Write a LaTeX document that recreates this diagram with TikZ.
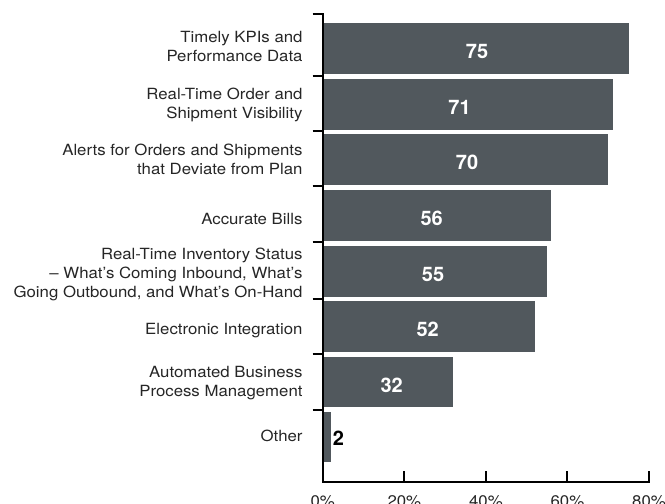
\documentclass[tikz,border=0pt]{standalone}
\usepackage{fontspec}
\setmainfont[FakeStretch=1.09]{TeX Gyre Heros}
\newfontfamily\valfont{TeX Gyre Heros}
\definecolor{barcol}{RGB}{81,88,93}
\tikzset{
  barbox/.style={fill=barcol, draw=none, inner sep=0pt, minimum height=50.7pt, anchor=west, rectangle},
  catlabel/.style={anchor=north east, inner sep=0pt, align=right, font=\fontsize{15.4}{19}\selectfont, text=black!85},
  vallabel/.style={inner sep=0pt, text=white, font=\valfont\bfseries\fontsize{20}{24}\selectfont},
  axisline/.style={line width=2pt, line cap=butt, line join=miter},
  ticklabel/.style={anchor=north, inner sep=0pt, font=\fontsize{15.4}{19}\selectfont, text=black!85}
}
\begin{document}
\begin{tikzpicture}[x=1pt,y=-1pt]
\useasboundingbox (0,0) rectangle (665,504);
% bars
\node[barbox, minimum width=305.9pt] (b1) at (322.7,48.5) {};
\node[barbox, minimum width=289.6pt] (b2) at (322.7,104.5) {};
\node[barbox, minimum width=285.5pt] (b3) at (322.7,159.3) {};
\node[barbox, minimum width=228.4pt] (b4) at (322.7,215.3) {};
\node[barbox, minimum width=224.3pt] (b5) at (322.7,271.3) {};
\node[barbox, minimum width=212.1pt] (b6) at (322.7,326.3) {};
\node[barbox, minimum width=130.5pt] (b7) at (322.7,382) {};
\node[barbox, minimum width=8.2pt] (b8) at (322.7,437) {};
% values
\node[vallabel] (v1) at (477,51.5) {75};
\node[vallabel] (v2) at (459.5,107.5) {71};
\node[vallabel] (v3) at (467,162.3) {70};
\node[vallabel] (v4) at (431.7,218.3) {56};
\node[vallabel] (v5) at (433,274.3) {55};
\node[vallabel] (v6) at (427.7,329.3) {52};
\node[vallabel] (v7) at (391.7,385) {32};
\node[vallabel, text=black] (v8) at (338.5,438) {2};
% category labels
\node[catlabel] (c1) at (302.7,30.7) {Timely KPIs and\\Performance Data};
\node[catlabel] (c2) at (302.7,87.3) {Real-Time Order and\\Shipment Visibility};
\node[catlabel] (c3) at (302.7,143.3) {Alerts for Orders and Shipments\\that Deviate from Plan};
\node[catlabel] (c4) at (302.7,213.3) {Accurate Bills};
\node[catlabel] (c5) at (302.7,247.7) {Real-Time Inventory Status\\– What’s Coming Inbound, What’s\\Going Outbound, and What’s On-Hand};
\node[catlabel] (c6) at (302.7,323.3) {Electronic Integration};
\node[catlabel] (c7) at (302.7,365.7) {Automated Business\\Process Management};
\node[catlabel] (c8) at (302.7,430) {Other};
% axes
\coordinate (top) at (312.7,14);
\coordinate (topaxis) at (322.7,14);
\coordinate (origin) at (322.7,481.7);
\coordinate (xend) at (649,481.7);
\coordinate (xendtop) at (649,471);
\draw[axisline] (top) -- (topaxis) -- (origin) -- (xend) -- (xendtop);
% left ticks
\foreach \yy in {76,131,186,241.7,299,354.3,410}
  \draw[axisline] (312.7,\yy) -- (322.7,\yy);
% bottom ticks
\foreach \xx in {404.3,485.9,567.4}
  \draw[axisline] (\xx,471) -- (\xx,481.7);
% tick labels
\node[ticklabel] (t0) at (322.7,495.7) {0\%};
\node[ticklabel] (t20) at (404.3,495.7) {20\%};
\node[ticklabel] (t40) at (485.9,495.7) {40\%};
\node[ticklabel] (t60) at (567.4,495.7) {60\%};
\node[ticklabel] (t80) at (649,495.7) {80\%};
\end{tikzpicture}
\end{document}
